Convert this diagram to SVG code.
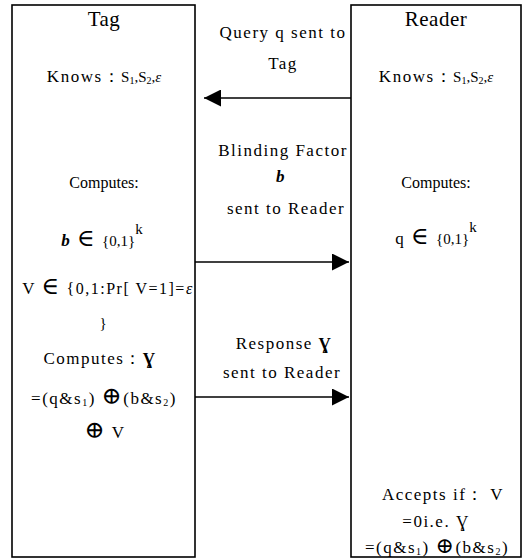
<svg xmlns="http://www.w3.org/2000/svg" width="530" height="560" viewBox="0 0 530 560" font-family="'Liberation Serif', 'DejaVu Serif', serif">
<style>
text{font-family:'Liberation Serif','DejaVu Serif',serif}
.box{fill:#fff;stroke:#000;stroke-width:1.6}
.t{font-size:17px;letter-spacing:1.5px;fill:#000;text-anchor:middle}
.ttl{font-size:21px;letter-spacing:0.5px}
.cmp{font-size:16px;letter-spacing:0}
.sm{font-size:15px;letter-spacing:0}
.sub{font-size:10px}
.op{font-size:24px}
.conn{stroke:#000;stroke-width:1.6;fill:none}
</style>
<defs>
<marker id="ah" viewBox="0 0 10 10" refX="10" refY="5" markerWidth="17" markerHeight="17" markerUnits="userSpaceOnUse" orient="auto">
<path d="M0,0 L10,5 L0,10 z" fill="#000"/>
</marker>
</defs>
<rect width="530" height="560" fill="#fff"/>
<g id="tag">
<rect class="box" x="12" y="5" width="183" height="552"/>
<text class="t ttl" x="104" y="26">Tag</text>
<text class="t" x="104" y="82" letter-spacing="1">Knows：<tspan class="sm" letter-spacing="-0.5">S<tspan class="sub" dy="2">1</tspan><tspan dy="-2">,S</tspan><tspan class="sub" dy="2">2</tspan><tspan dy="-2">,</tspan><tspan font-style="italic">ε</tspan></tspan></text>
<text class="t cmp" x="104" y="188">Computes:</text>
<text class="t" x="102" y="246" letter-spacing="1"><tspan font-style="italic" font-weight="bold">b</tspan> <tspan class="op">∈</tspan> <tspan class="sm">{0,1}</tspan><tspan class="sm" dy="-12">k</tspan></text>
<text class="t" x="108" y="294" letter-spacing="0.3">V <tspan class="op">∈</tspan> <tspan font-size="16">{0,1:Pr[ V=1]=<tspan font-style="italic">ε</tspan></tspan></text>
<text class="t sm" x="103" y="328">}</text>
<text class="t" x="100" y="364" letter-spacing="1">Computes：<tspan font-weight="bold">Ɣ</tspan></text>
<text class="t" x="104" y="404" letter-spacing="1.2">=(q&amp;s<tspan class="sub" dy="2">1</tspan><tspan dy="-2">) </tspan><tspan class="op">⊕</tspan>(b&amp;s<tspan class="sub" dy="2">2</tspan><tspan dy="-2">)</tspan></text>
<text class="t" x="105" y="438"><tspan class="op">⊕</tspan> V</text>
</g>
<g id="reader">
<rect class="box" x="351" y="5" width="170" height="552"/>
<text class="t ttl" x="436" y="26">Reader</text>
<text class="t" x="436" y="82" letter-spacing="1">Knows：<tspan class="sm" letter-spacing="-0.5">S<tspan class="sub" dy="2">1</tspan><tspan dy="-2">,S</tspan><tspan class="sub" dy="2">2</tspan><tspan dy="-2">,</tspan><tspan font-style="italic">ε</tspan></tspan></text>
<text class="t cmp" x="436" y="188">Computes:</text>
<text class="t" x="436" y="244" letter-spacing="1">q <tspan class="op">∈</tspan> <tspan class="sm">{0,1}</tspan><tspan class="sm" dy="-12">k</tspan></text>
<text class="t" x="443" y="500">Accepts if：  V</text>
<text class="t" x="436" y="527">=0i.e. Ɣ</text>
<text class="t" x="437" y="553" letter-spacing="1">=(q&amp;s<tspan class="sub" dy="2">1</tspan><tspan dy="-2">) </tspan><tspan font-size="22">⊕</tspan>(b&amp;s<tspan class="sub" dy="2">2</tspan><tspan dy="-2">)</tspan></text>
</g>
<g id="connectors">
<line class="conn" x1="351" y1="98" x2="204" y2="98" marker-end="url(#ah)"/>
<line class="conn" x1="195" y1="262" x2="349" y2="262" marker-end="url(#ah)"/>
<line class="conn" x1="195" y1="397" x2="349" y2="397" marker-end="url(#ah)"/>
<text class="t" x="283" y="38">Query q sent to</text>
<text class="t" x="283" y="69">Tag</text>
<text class="t" x="283" y="156">Blinding Factor</text>
<text class="t" x="281" y="182" font-style="italic" font-weight="bold">b</text>
<text class="t" x="286" y="214">sent to Reader</text>
<text class="t" x="284" y="349">Response <tspan font-weight="bold">Ɣ</tspan></text>
<text class="t" x="282" y="378">sent to Reader</text>
</g>
</svg>
